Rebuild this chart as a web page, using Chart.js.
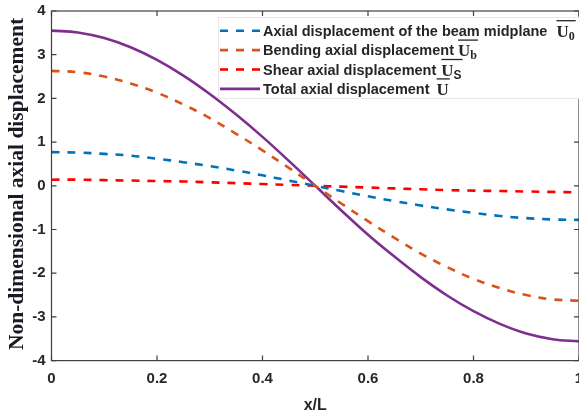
<!DOCTYPE html>
<html>
<head>
<meta charset="utf-8">
<script src="https://cdn.jsdelivr.net/npm/chart.js@4"></script>
<style>
  html, body { margin: 0; padding: 0; background: #fff; }
  #wrap { width: 579px; height: 415px; }
</style>
</head>
<body>
<div id="wrap"><canvas id="chart" width="579" height="415"></canvas></div>
<script>
// x positions (x/L)
const xs = [0, 0.05, 0.1, 0.15, 0.2, 0.25, 0.3, 0.35, 0.4, 0.45, 0.5, 0.55, 0.6, 0.65, 0.7, 0.75, 0.8, 0.85, 0.9, 0.95, 1];

// values
const midplane = [0.77, 0.76, 0.73, 0.69, 0.62, 0.54, 0.45, 0.35, 0.24, 0.12, 0, -0.12, -0.24, -0.35, -0.45, -0.54, -0.62, -0.69, -0.74, -0.77, -0.78];
const bending = [2.63, 2.60, 2.50, 2.34, 2.13, 1.86, 1.55, 1.19, 0.81, 0.41, 0, -0.41, -0.81, -1.19, -1.55, -1.86, -2.13, -2.34, -2.50, -2.60, -2.63];
const shear = [0.14, 0.14, 0.13, 0.12, 0.11, 0.10, 0.08, 0.06, 0.04, 0.02, 0, -0.02, -0.04, -0.06, -0.08, -0.10, -0.11, -0.12, -0.13, -0.14, -0.15];
const total = [3.55, 3.51, 3.38, 3.17, 2.88, 2.52, 2.10, 1.63, 1.12, 0.57, 0, -0.57, -1.12, -1.62, -2.09, -2.51, -2.87, -3.16, -3.38, -3.51, -3.56];

const xTicks = [0, 0.2, 0.4, 0.6, 0.8, 1];
const yTicks = [-4, -3, -2, -1, 0, 1, 2, 3, 4];

const legendTexts = ['Axial displacement of the beam midplane', 'Bending axial displacement', 'Shear axial displacement', 'Total axial displacement'];
const legendSubs = ['0', 'b', 'S', ''];
const legendGaps = [9, 4, 5, 7];

const colors = {
    blue: '#0072BD',
    orange: '#D95319',
    red: '#FF0000',
    purple: '#7E2F8E',
    axis: '#404040',
    text: '#262626'
};

function pts(ys) {
    return xs.map((x, i) => ({ x: x, y: ys[i] }));
}

const series = [
    { data: midplane, color: colors.blue, dash: [8, 8] },
    { data: bending, color: colors.orange, dash: [8, 8] },
    { data: shear, color: colors.red, dash: [8, 8] },
    { data: total, color: colors.purple, dash: [] }
];

// box, inward ticks and the legend, MATLAB style
const boxPlugin = {
    id: 'box',
    afterDraw(chart) {
        const ctx = chart.ctx;
        const a = chart.chartArea;
        const sx = chart.scales.x, sy = chart.scales.y;
        ctx.save();
        ctx.strokeStyle = colors.axis;
        ctx.lineWidth = 1.2;
        ctx.strokeRect(a.left, a.top, a.right - a.left, a.bottom - a.top);
        ctx.beginPath();
        xTicks.forEach(v => {
            const px = sx.getPixelForValue(v);
            ctx.moveTo(px, a.bottom); ctx.lineTo(px, a.bottom - 5);
            ctx.moveTo(px, a.top); ctx.lineTo(px, a.top + 5);
        });
        yTicks.forEach(v => {
            const py = sy.getPixelForValue(v);
            ctx.moveTo(a.left, py); ctx.lineTo(a.left + 5, py);
            ctx.moveTo(a.right, py); ctx.lineTo(a.right - 5, py);
        });
        ctx.stroke();

        // legend
        const lx = 218, ly = 17, rowH = 19.4;
        ctx.fillStyle = '#fff';
        ctx.fillRect(lx, ly, 579 - lx, 82);
        ctx.strokeStyle = '#e8e8e8';
        ctx.lineWidth = 1;
        ctx.strokeRect(lx + 0.5, ly + 0.5, 579 - lx, 81);
        series.forEach((s, i) => {
            const cy = 30.7 + i * rowH;
            ctx.strokeStyle = s.color;
            ctx.lineWidth = 2.6;
            ctx.setLineDash(s.dash);
            ctx.beginPath();
            ctx.moveTo(220, cy); ctx.lineTo(260, cy);
            ctx.stroke();
            ctx.setLineDash([]);

            ctx.fillStyle = colors.text;
            ctx.textBaseline = 'alphabetic';
            ctx.textAlign = 'left';
            ctx.font = 'bold 14.5px "Liberation Sans", Arial, sans-serif';
            ctx.fillText(legendTexts[i], 263, cy + 5);
            let ux = 263 + ctx.measureText(legendTexts[i]).width + legendGaps[i];
            ctx.font = 'bold 17px "Liberation Serif", "Times New Roman", serif';
            ctx.fillText('U', ux, cy + 6);
            const uw = ctx.measureText('U').width;
            let w = uw;
            if (legendSubs[i]) {
                ctx.font = (legendSubs[i] === 'S' ? 'bold 12px "Liberation Sans", Arial, sans-serif' : 'bold 12px "Liberation Serif", serif');
                ctx.fillText(legendSubs[i], ux + uw, cy + 9);
                w += ctx.measureText(legendSubs[i]).width;
            }
            ctx.strokeStyle = colors.text;
            ctx.lineWidth = 1.3;
            ctx.beginPath();
            ctx.moveTo(ux, cy - 10); ctx.lineTo(ux + w + 1, cy - 10);
            ctx.stroke();
        });
        ctx.restore();

        // y axis title
        ctx.save();
        ctx.translate(17, 184);
        ctx.rotate(-Math.PI / 2);
        ctx.fillStyle = '#1a1a24';
        ctx.font = 'bold 21.5px "Liberation Serif", "Times New Roman", serif';
        ctx.textAlign = 'center';
        ctx.textBaseline = 'middle';
        ctx.fillText('Non-dimensional axial displacement', 0, 0);
        ctx.restore();
    }
};

new Chart(document.getElementById('chart').getContext('2d'), {
    type: 'line',
    data: {
        datasets: series.map(s => ({
            data: pts(s.data),
            borderColor: s.color,
            borderWidth: 2.6,
            borderDash: s.dash,
            pointRadius: 0,
            fill: false,
            tension: 0.4
        }))
    },
    options: {
        responsive: false,
        animation: false,
        layout: { padding: { left: 0, right: 0, top: 11, bottom: 0 } },
        plugins: {
            legend: { display: false },
            tooltip: { enabled: false }
        },
        scales: {
            x: {
                type: 'linear',
                min: 0,
                max: 1,
                grid: { display: false, drawTicks: false },
                border: { display: false },
                ticks: {
                    stepSize: 0.2,
                    padding: 9,
                    color: colors.text,
                    font: { family: '"Liberation Sans", Arial, sans-serif', size: 15, weight: 'bold' },
                    maxRotation: 0,
                    callback: v => String(Math.round(v * 10) / 10)
                },
                title: {
                    display: true,
                    text: 'x/L',
                    color: colors.text,
                    padding: { top: 1, bottom: 0 },
                    font: { family: '"Liberation Sans", Arial, sans-serif', size: 16, weight: 'bold' }
                },
                afterFit: s => { s.height = 54.4; s.paddingLeft = 0; s.paddingRight = 0; }
            },
            y: {
                min: -4,
                max: 4,
                grid: { display: false, drawTicks: false },
                border: { display: false },
                ticks: {
                    stepSize: 1,
                    padding: 6,
                    color: colors.text,
                    font: { family: '"Liberation Sans", Arial, sans-serif', size: 15, weight: 'bold' }
                },
                afterFit: s => { s.width = 51.5; s.paddingTop = 0; s.paddingBottom = 0; }
            }
        }
    },
    plugins: [boxPlugin]
});
</script>
</body>
</html>
